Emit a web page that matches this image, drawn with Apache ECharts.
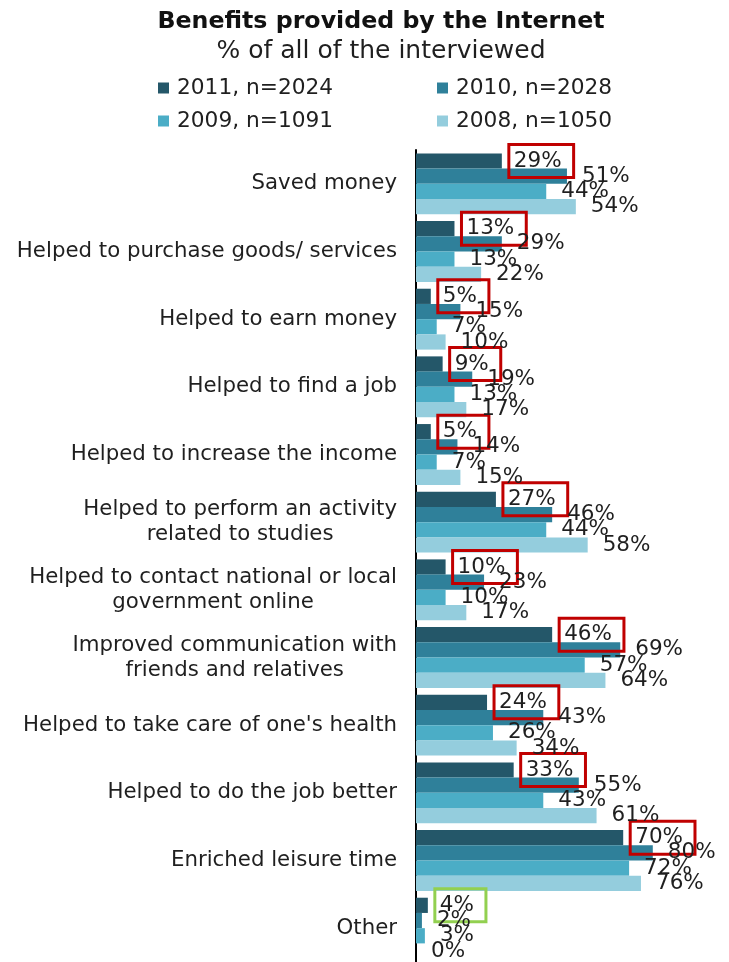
<!DOCTYPE html>
<html>
<head>
<meta charset="utf-8">
<script src="https://cdn.jsdelivr.net/npm/echarts@6/dist/echarts.min.js"></script>
<style>
  html, body { margin: 0; padding: 0; background: #fff; }
  #chart { width: 729px; height: 962px; }
</style>
</head>
<body>
<div id="chart"></div>
<script>
// Benefit categories, top to bottom
const categories = [
  'Saved money',
  'Helped to purchase goods/ services',
  'Helped to earn money',
  'Helped to find a job',
  'Helped to increase the income',
  'Helped to perform an activity\nrelated to studies',
  'Helped to contact national or local\ngovernment online',
  'Improved communication with\nfriends and relatives',
  "Helped to take care of one's health",
  'Helped to do the job better',
  'Enriched leisure time',
  'Other'
];

// Share of respondents (%) per survey year
const values2011 = [29, 13, 5, 9, 5, 27, 10, 46, 24, 33, 70, 4];
const values2010 = [51, 29, 15, 19, 14, 46, 23, 69, 43, 55, 80, 2];
const values2009 = [44, 13, 7, 13, 7, 44, 10, 57, 26, 43, 72, 3];
const values2008 = [54, 22, 10, 17, 15, 58, 17, 64, 34, 61, 76, 0];

const seriesNames = ['2011, n=2024', '2010, n=2028', '2009, n=1091', '2008, n=1050'];
const seriesColors = ['#245769', '#2f809a', '#4badc6', '#94cddd'];

const FONT = 'DejaVu Sans, Verdana, sans-serif';
const TEXT = '#1f1f1f';

const chart = echarts.init(document.getElementById('chart'), null, { renderer: 'canvas' });

const plainLabel = {
  show: true,
  position: 'right',
  distance: 15,
  formatter: '{c}%',
  fontFamily: FONT,
  fontSize: 21.5,
  color: TEXT
};

// 2011 values are framed; "Other" gets a green frame
const boxedLabel = Object.assign({}, plainLabel, {
  distance: 7,
  borderColor: '#c00000',
  borderWidth: 3,
  padding: [6, 12, 5, 5]
});

const data2011 = values2011.map((v, i) =>
  categories[i] === 'Other'
    ? { value: v, label: { borderColor: '#92d050' } }
    : v
);

const allData = [data2011, values2010, values2009, values2008];

const series = seriesNames.map((name, k) => ({
  name: name,
  type: 'bar',
  data: allData[k],
  barGap: '0%',
  barCategoryGap: '10%',
  itemStyle: { color: seriesColors[k] },
  label: k === 0 ? boxedLabel : plainLabel,
  emphasis: { disabled: true },
  animation: false
}));

// One legend per item, laid out as a 2 x 2 block
const legendPos = [[158, 77], [437, 77], [158, 110], [437, 110]];
const legends = seriesNames.map((name, k) => ({
  data: [name],
  left: legendPos[k][0] - 5,
  top: legendPos[k][1] - 5,
  icon: 'rect',
  itemWidth: 11,
  itemHeight: 11,
  selectedMode: false,
  textStyle: { fontFamily: FONT, fontSize: 21.7, color: TEXT, padding: [0, 0, 0, 3] }
}));

chart.setOption({
  backgroundColor: '#ffffff',
  animation: false,
  title: {
    text: 'Benefits provided by the Internet',
    subtext: '% of all of the interviewed',
    left: 376,
    top: 5,
    textAlign: 'center',
    itemGap: 5,
    textStyle: { fontFamily: FONT, fontSize: 23.7, fontWeight: 'bold', color: '#111' },
    subtextStyle: { fontFamily: FONT, fontSize: 25, color: TEXT }
  },
  legend: legends,
  grid: { left: 416, right: 17, top: 150, height: 814, containLabel: false },
  xAxis: {
    type: 'value',
    min: 0,
    max: 100,
    show: false
  },
  yAxis: {
    type: 'category',
    inverse: true,
    data: categories,
    axisLine: { show: true, lineStyle: { color: '#000', width: 2 } },
    axisTick: { show: false },
    splitLine: { show: false },
    axisLabel: {
      margin: 19,
      align: 'right',
      fontFamily: FONT,
      fontSize: 21.3,
      color: TEXT,
      lineHeight: 25,
      formatter: (val) => val.split('\n').map(l => '{c|' + l + '}').join('\n'),
      rich: {
        c: { align: 'center', fontFamily: FONT, fontSize: 21.3, color: TEXT, lineHeight: 25 }
      }
    }
  },
  series: series
});
</script>
</body>
</html>
